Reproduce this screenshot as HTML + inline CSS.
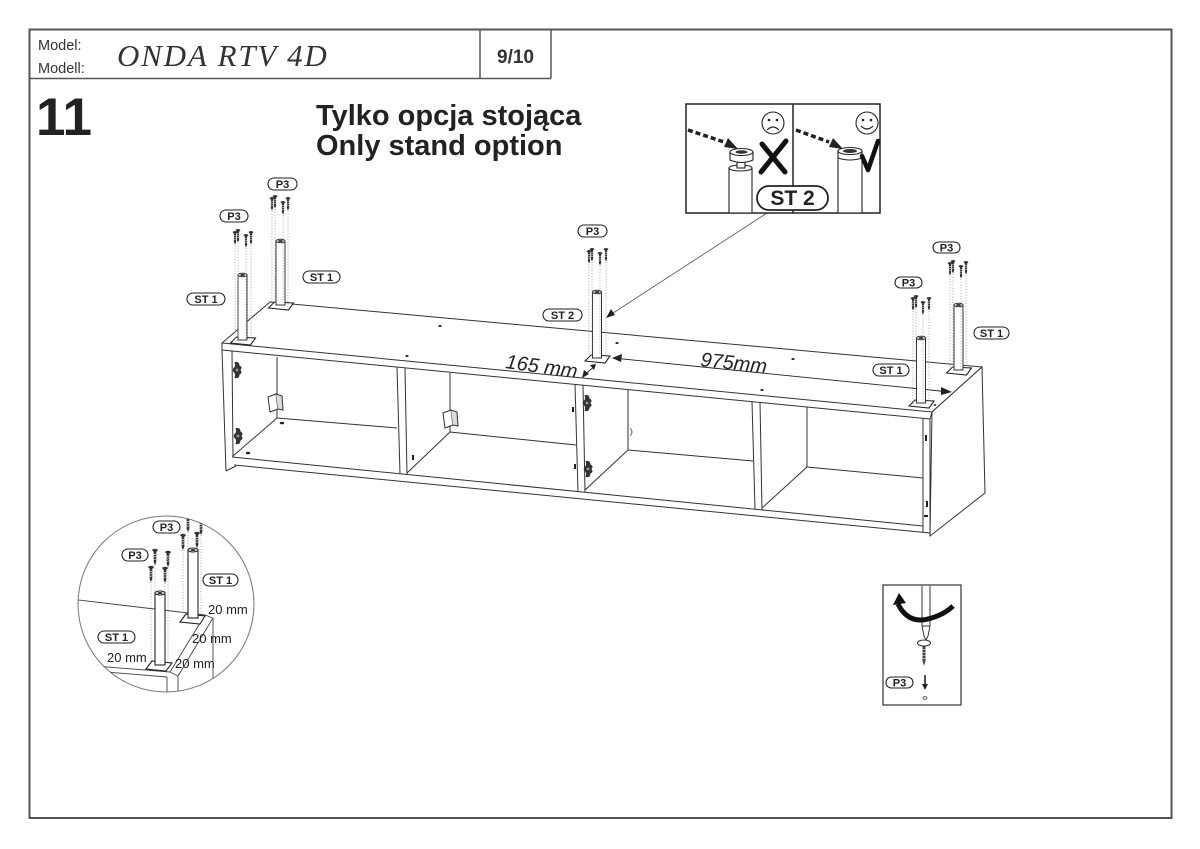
<!DOCTYPE html>
<html><head><meta charset="utf-8"><style>
html,body{margin:0;padding:0;background:#fff;}
svg{display:block;}
</style></head><body>
<svg width="1200" height="849" viewBox="0 0 1200 849" xmlns="http://www.w3.org/2000/svg" font-family="Liberation Sans, sans-serif">
<defs>
<g id="s"><path d="M-2.6,0 Q0,-2 2.6,0 L1.1,1.6 L1.1,10 L0,12.5 L-1.1,10 L-1.1,1.6 Z" fill="#333"/><path d="M-1.1,4 L1.1,3.3 M-1.1,6 L1.1,5.3 M-1.1,8 L1.1,7.3" stroke="#fff" stroke-width="0.5"/></g>
<g id="cam"><path d="M-2.5,-8 Q2.5,-9 2.5,-4.5 Q6,-3 3.5,0 Q6,3 2.5,4.5 Q2.5,9 -2.5,8 Q-1,3.5 -3.5,2 Q-5,0 -3.5,-2 Q-1,-3.5 -2.5,-8 Z" fill="#333"/><circle cx="0" cy="0" r="1.4" fill="#999"/></g>
<clipPath id="cc"><circle cx="166" cy="604" r="88"/></clipPath>
</defs>

<!-- frame -->
<rect x="29.5" y="29.5" width="1142" height="788.5" fill="none" stroke="#555" stroke-width="2"/>
<line x1="29.5" y1="78.5" x2="551" y2="78.5" stroke="#555" stroke-width="1.5"/>
<line x1="480" y1="29.5" x2="480" y2="78.5" stroke="#555" stroke-width="1.5"/>
<line x1="551" y1="29.5" x2="551" y2="78.5" stroke="#555" stroke-width="1.5"/>
<text x="38" y="50" font-size="14.5" fill="#333">Model:</text>
<text x="38" y="73" font-size="14.5" fill="#333">Modell:</text>
<text x="117" y="66" style="font-family:'Liberation Serif',serif;font-style:italic;font-size:31px;letter-spacing:1.8px" fill="#333">ONDA RTV 4D</text>
<text x="515.5" y="63" font-size="19" font-weight="bold" fill="#333" text-anchor="middle">9/10</text>

<text x="36" y="135" font-size="53" font-weight="bold" fill="#222">11</text>
<text x="316" y="125" font-size="29" font-weight="bold" fill="#222">Tylko opcja stojąca</text>
<text x="316" y="155" font-size="29" font-weight="bold" fill="#222">Only stand option</text>

<!-- ===== cabinet ===== -->
<g stroke="#333" stroke-width="1" fill="none">
<polygon points="222,343 270,302 982,367 932,412" fill="#fff"/>
<polyline points="222,343 222,350 930,419 932,412"/>
<polygon points="932,412 982,367 985,493 930,536" fill="#fff"/>
<line x1="930" y1="419" x2="930" y2="536"/>
<line x1="923" y1="418" x2="923" y2="532"/>
<line x1="222" y1="350" x2="226" y2="471"/>
<line x1="232" y1="351" x2="233" y2="457"/>
<line x1="226" y1="471" x2="236" y2="466"/>
<line x1="232" y1="457" x2="923" y2="526"/>
<line x1="234" y1="465" x2="930" y2="533"/>
<line x1="397" y1="367" x2="400" y2="474"/><line x1="405" y1="368" x2="407" y2="475"/>
<line x1="575" y1="384" x2="578" y2="492"/><line x1="583" y1="385" x2="585" y2="492"/>
<line x1="752" y1="402" x2="755" y2="509"/><line x1="760" y1="402" x2="762" y2="510"/>
<line x1="277" y1="357" x2="277" y2="418"/><line x1="277" y1="418" x2="397" y2="428"/><line x1="277" y1="418" x2="233" y2="456"/>
<line x1="450" y1="373" x2="450" y2="432"/><line x1="450" y1="432" x2="576" y2="445"/><line x1="450" y1="432" x2="407" y2="473"/>
<line x1="628" y1="390" x2="628" y2="450"/><line x1="628" y1="450" x2="753" y2="461"/><line x1="628" y1="450" x2="585" y2="490"/>
<line x1="807" y1="407" x2="807" y2="467"/><line x1="807" y1="467" x2="923" y2="478"/><line x1="807" y1="467" x2="762" y2="508"/>
</g>
<use href="#cam" x="237" y="370"/><use href="#cam" x="238" y="436"/>
<use href="#cam" x="587" y="403"/><use href="#cam" x="588" y="469"/>
<g stroke="#333" stroke-width="1" fill="#fff">
<polygon points="268,397 276,394 278,409 270,412"/><polyline points="276,394 282,396 283,410 278,409" fill="#ddd"/>
<polygon points="443,413 451,410 453,425 445,428"/><polyline points="451,410 457,412 458,426 453,425" fill="#ddd"/>
</g>
<g fill="#222">
<ellipse cx="440" cy="326" rx="1.6" ry="1"/><ellipse cx="407" cy="356" rx="1.6" ry="1"/>
<ellipse cx="617" cy="343" rx="1.6" ry="1"/><ellipse cx="793" cy="359" rx="1.6" ry="1"/>
<ellipse cx="762" cy="390" rx="1.6" ry="1"/><ellipse cx="935" cy="405" rx="1.4" ry="0.9"/>
<ellipse cx="282" cy="423" rx="2.2" ry="1.3"/><ellipse cx="248" cy="453" rx="2.2" ry="1.3"/>
<rect x="412" y="455" width="2" height="5"/><rect x="572" y="407" width="2" height="5"/><rect x="574" y="464" width="2" height="5"/>
<rect x="925" y="435" width="2" height="6"/><rect x="926" y="501" width="2" height="6"/><rect x="924" y="515" width="4" height="2"/>
</g>
<path d="M630,428 Q634,432 630,436" stroke="#555" fill="none" stroke-width="0.8"/>

<g stroke="#222" stroke-width="0.9">
<line x1="613" y1="358" x2="950" y2="392"/>
<line x1="583" y1="376" x2="595" y2="366"/>
</g>
<g fill="#222">
<polygon points="612,358 622,354 621,362"/>
<polygon points="952,392 941,387 941,395"/>
<polygon points="582,378 584,370 589,374"/>
<polygon points="596,364 590,365 594,370"/>
</g>
<text transform="translate(505,368) rotate(8)" font-size="20" font-style="italic" fill="#222">165 mm</text>
<text transform="translate(700,366) rotate(6)" font-size="20" font-style="italic" fill="#222">975mm</text>

<!-- legs -->
<g stroke="#222" stroke-width="1.1" fill="#fff">
<polygon points="230.5,343 236.5,337 255.5,338 250.5,345"/>
<polygon points="268.5,308 274.5,302 293.5,303 288.5,310"/>
<polygon points="585,361 591,355 610,356 605,363"/>
<polygon points="909,406 915,400 934,401 929,408"/>
<polygon points="946.5,373 952.5,367 971.5,368 966.5,375"/>
</g>
<g stroke="#333" stroke-width="1" fill="#fff">
<rect x="238" y="275" width="9" height="65"/>
<rect x="276" y="241" width="9" height="64"/>
<rect x="592.5" y="292" width="9" height="66"/>
<rect x="916.5" y="338" width="9" height="65"/>
<rect x="954" y="305" width="9" height="65"/>
<ellipse cx="242.5" cy="275" rx="4.5" ry="1.8"/><ellipse cx="280.5" cy="241" rx="4.5" ry="1.8"/>
<ellipse cx="597" cy="292" rx="4.5" ry="1.8"/><ellipse cx="921" cy="338" rx="4.5" ry="1.8"/><ellipse cx="958.5" cy="305" rx="4.5" ry="1.8"/>
</g>
<g fill="#333">
<ellipse cx="242.5" cy="275" rx="2.4" ry="1"/><ellipse cx="280.5" cy="241" rx="2.4" ry="1"/>
<ellipse cx="597" cy="292" rx="2.4" ry="1"/><ellipse cx="921" cy="338" rx="2.4" ry="1"/><ellipse cx="958.5" cy="305" rx="2.4" ry="1"/>
</g>
<g stroke="#888" stroke-width="0.7" stroke-dasharray="1 1.8">
<line x1="235" y1="245" x2="235" y2="340"/><line x1="238" y1="243" x2="238" y2="338"/><line x1="246" y1="248" x2="246" y2="340"/><line x1="251" y1="245" x2="251" y2="342"/>
<line x1="272" y1="211" x2="272" y2="306"/><line x1="275" y1="209" x2="275" y2="304"/><line x1="283" y1="215" x2="283" y2="305"/><line x1="288" y1="211" x2="288" y2="307"/>
<line x1="589" y1="264" x2="589" y2="359"/><line x1="592" y1="262" x2="592" y2="357"/><line x1="600" y1="266" x2="600" y2="358"/><line x1="606" y1="262" x2="606" y2="360"/>
<line x1="913" y1="311" x2="913" y2="404"/><line x1="916" y1="309" x2="916" y2="402"/><line x1="923" y1="315" x2="923" y2="403"/><line x1="929" y1="311" x2="929" y2="405"/>
<line x1="950" y1="276" x2="950" y2="371"/><line x1="953" y1="274" x2="953" y2="369"/><line x1="961" y1="279" x2="961" y2="370"/><line x1="966" y1="275" x2="966" y2="372"/>
</g>
<use href="#s" x="235" y="232"/><use href="#s" x="238" y="230"/><use href="#s" x="246" y="235"/><use href="#s" x="251" y="232"/>
<use href="#s" x="272" y="198"/><use href="#s" x="275" y="196"/><use href="#s" x="283" y="202"/><use href="#s" x="288" y="198"/>
<use href="#s" x="589" y="251"/><use href="#s" x="592" y="249"/><use href="#s" x="600" y="253"/><use href="#s" x="606" y="249"/>
<use href="#s" x="913" y="298"/><use href="#s" x="916" y="296"/><use href="#s" x="923" y="302"/><use href="#s" x="929" y="298"/>
<use href="#s" x="950" y="263"/><use href="#s" x="953" y="261"/><use href="#s" x="961" y="266"/><use href="#s" x="966" y="262"/>

<g stroke="#222" stroke-width="1.1" fill="#fff">
<rect x="220" y="210" width="28" height="12" rx="6"/>
<rect x="268" y="178" width="29" height="12" rx="6"/>
<rect x="187" y="293" width="38" height="12" rx="6"/>
<rect x="303" y="271" width="37" height="12" rx="6"/>
<rect x="578" y="225" width="29" height="12" rx="6"/>
<rect x="543" y="309" width="39" height="12" rx="6"/>
<rect x="895" y="277" width="27" height="11" rx="5.5"/>
<rect x="873" y="364" width="36" height="12" rx="6"/>
<rect x="933" y="242" width="27" height="11" rx="5.5"/>
<rect x="974" y="327" width="35" height="12" rx="6"/>
</g>
<g font-size="11" font-weight="bold" fill="#222" text-anchor="middle">
<text x="234" y="220">P3</text>
<text x="282.5" y="188">P3</text>
<text x="206" y="303">ST 1</text>
<text x="321.5" y="281">ST 1</text>
<text x="592.5" y="235">P3</text>
<text x="562.5" y="319">ST 2</text>
<text x="908.5" y="286.5">P3</text>
<text x="891" y="374">ST 1</text>
<text x="946.5" y="251.5">P3</text>
<text x="991.5" y="337">ST 1</text>
</g>

<line x1="767" y1="213" x2="610" y2="315" stroke="#555" stroke-width="0.8"/>
<polygon points="606,318 611,309 615,315" fill="#222"/>

<!-- ===== top-right inset ===== -->
<rect x="686" y="104" width="194" height="109" fill="#fff" stroke="#222" stroke-width="1.5"/>
<line x1="793" y1="104" x2="793" y2="213" stroke="#222" stroke-width="1.5"/>
<g stroke="#222" stroke-width="1.1" fill="#fff">
<rect x="729" y="168" width="23" height="45"/>
<ellipse cx="740.5" cy="168" rx="11.5" ry="3"/>
<rect x="737" y="159" width="8" height="9"/>
<path d="M730,152 L730,160 Q741.5,165 753,160 L753,152"/>
<ellipse cx="741.5" cy="152" rx="11.5" ry="3.5"/>
<rect x="838" y="151" width="24" height="62"/>
<ellipse cx="850" cy="151" rx="12" ry="3.5"/>
<path d="M838,158 Q850,162 862,158" fill="none"/>
<circle cx="773" cy="123" r="11"/>
<circle cx="867" cy="123" r="11"/>
</g>
<ellipse cx="741.5" cy="152" rx="6" ry="1.8" fill="#333"/>
<ellipse cx="850" cy="151" rx="7" ry="2" fill="#333"/>
<g fill="#222">
<circle cx="769" cy="120" r="1.3"/><circle cx="777" cy="120" r="1.3"/>
<circle cx="863" cy="120" r="1.3"/><circle cx="871" cy="120" r="1.3"/>
</g>
<path d="M767,130 Q773,124 779,130" stroke="#222" stroke-width="1.2" fill="none"/>
<path d="M861,126 Q867,132 873,126" stroke="#222" stroke-width="1.2" fill="none"/>
<path d="M688,130 L724,142" stroke="#222" stroke-width="3.5" stroke-dasharray="5 3"/>
<polygon points="738,149 724,147 728,138" fill="#222"/>
<path d="M796,130 L829,142" stroke="#222" stroke-width="3.5" stroke-dasharray="5 3"/>
<polygon points="843,149 829,147 833,138" fill="#222"/>
<path d="M762,144 L785,172 M786,141 L761,172" stroke="#111" stroke-width="5" stroke-linecap="round"/>
<path d="M862,156 L868,170 L878,141" stroke="#111" stroke-width="4.5" fill="none" stroke-linecap="round" stroke-linejoin="round"/>
<rect x="757" y="186" width="71" height="24" rx="12" fill="#fff" stroke="#222" stroke-width="1.8"/>
<text x="792.5" y="205" font-size="21" font-weight="bold" fill="#222" text-anchor="middle">ST 2</text>

<!-- ===== circle inset ===== -->
<circle cx="166" cy="604" r="88" fill="#fff" stroke="#777" stroke-width="1"/>
<g clip-path="url(#cc)">
<g stroke="#444" stroke-width="0.9" fill="none">
<line x1="70" y1="599" x2="205" y2="615"/>
<line x1="205" y1="615" x2="213" y2="618"/>
<line x1="205" y1="615" x2="170" y2="672"/>
<line x1="213" y1="618" x2="178" y2="676"/>
<line x1="213" y1="618" x2="213" y2="700"/>
<line x1="70" y1="664" x2="170" y2="672"/>
<line x1="170" y1="672" x2="178" y2="676"/>
<line x1="70" y1="669" x2="167" y2="677"/>
<line x1="167" y1="677" x2="167" y2="700"/>
<line x1="178" y1="676" x2="178" y2="700"/>
</g>
<g stroke="#888" stroke-width="0.7" stroke-dasharray="1 1.8">
<line x1="188" y1="532" x2="188" y2="618"/><line x1="201" y1="535" x2="201" y2="620"/><line x1="183" y1="550" x2="183" y2="618"/><line x1="197" y1="548" x2="197" y2="620"/>
<line x1="155" y1="565" x2="155" y2="666"/><line x1="168" y1="567" x2="168" y2="668"/><line x1="151" y1="582" x2="151" y2="668"/><line x1="165" y1="583" x2="165" y2="668"/>
</g>
<g stroke="#222" stroke-width="1.1" fill="#fff">
<polygon points="180,622 186,614 205,616 200,624"/>
<polygon points="146,669 152,661 172,663 166,671"/>
<rect x="188" y="550" width="10" height="68"/>
<rect x="155" y="593" width="10" height="72"/>
<ellipse cx="193" cy="550" rx="5" ry="2"/>
<ellipse cx="160" cy="593" rx="5" ry="2"/>
</g>
<ellipse cx="193" cy="550" rx="2.6" ry="1" fill="#333"/>
<ellipse cx="160" cy="593" rx="2.6" ry="1" fill="#333"/>
<g transform="translate(188,517) scale(1.2)"><use href="#s"/></g>
<g transform="translate(201,520) scale(1.2)"><use href="#s"/></g>
<g transform="translate(183,535) scale(1.2)"><use href="#s"/></g>
<g transform="translate(197,533) scale(1.2)"><use href="#s"/></g>
<g transform="translate(155,550) scale(1.2)"><use href="#s"/></g>
<g transform="translate(168,552) scale(1.2)"><use href="#s"/></g>
<g transform="translate(151,567) scale(1.2)"><use href="#s"/></g>
<g transform="translate(165,568) scale(1.2)"><use href="#s"/></g>
</g>
<g stroke="#222" stroke-width="1.1" fill="#fff">
<rect x="153" y="521" width="27" height="12" rx="6"/>
<rect x="122" y="549" width="26" height="12" rx="6"/>
<rect x="203" y="574" width="35" height="12" rx="6"/>
<rect x="98" y="631" width="37" height="12" rx="6"/>
</g>
<g font-size="11" font-weight="bold" fill="#222" text-anchor="middle">
<text x="166.5" y="531">P3</text>
<text x="135" y="559">P3</text>
<text x="220.5" y="584">ST 1</text>
<text x="116.5" y="641">ST 1</text>
</g>
<g font-size="13" fill="#222">
<text x="208" y="614">20 mm</text>
<text x="192" y="643">20 mm</text>
<text x="107" y="662">20 mm</text>
<text x="175" y="668">20 mm</text>
</g>

<!-- ===== screwdriver inset ===== -->
<rect x="883" y="585" width="78" height="120" fill="#fff" stroke="#333" stroke-width="1.2"/>
<g stroke="#333" stroke-width="1" fill="#fff">
<path d="M922,586 L922,626 L924,636 L926,640 L928,636 L930,626 L930,586"/>
<line x1="922" y1="626" x2="930" y2="626"/>
<ellipse cx="924" cy="643" rx="6.5" ry="3"/>
</g>
<path d="M898,604 Q908,624 928,619 Q944,615 953,606" stroke="#111" stroke-width="5" fill="none"/>
<polygon points="893,605 899,593 906,603" fill="#111"/>
<path d="M922.5,646 L925.5,646 L925.5,661 L924,666 L922.5,661 Z" fill="#444"/>
<path d="M922,650 L926,649 M922,653 L926,652 M922,656 L926,655 M922,659 L926,658" stroke="#fff" stroke-width="0.6"/>
<rect x="886" y="677" width="27" height="11" rx="5.5" fill="#fff" stroke="#222" stroke-width="1.1"/>
<text x="899.5" y="686.5" font-size="11" font-weight="bold" fill="#222" text-anchor="middle">P3</text>
<line x1="925" y1="675" x2="925" y2="686" stroke="#222" stroke-width="1.6"/>
<polygon points="922,684 928,684 925,690" fill="#222"/>
<ellipse cx="925" cy="698" rx="2" ry="1.3" fill="none" stroke="#444" stroke-width="0.8"/>
</svg>
</body></html>
